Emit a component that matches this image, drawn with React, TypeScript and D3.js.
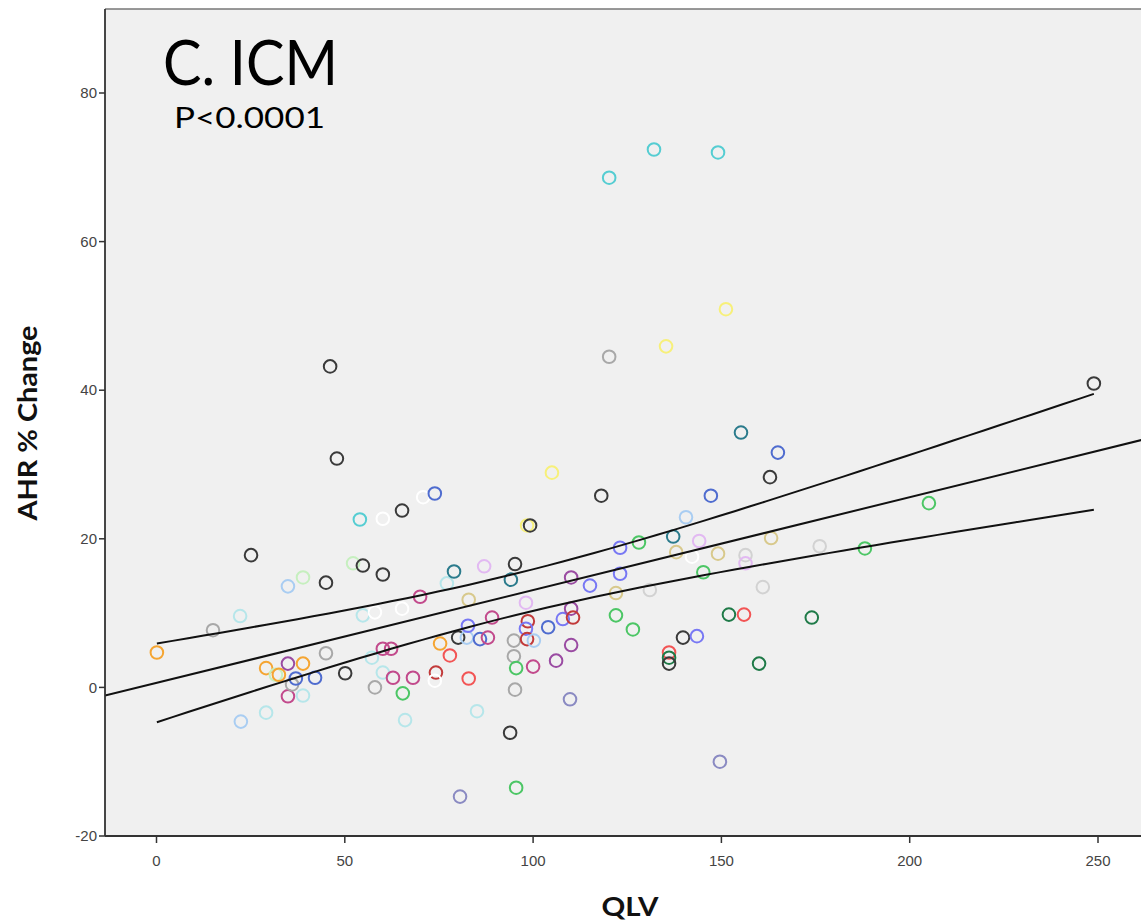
import React from "react";
import * as d3 from "d3";

// QLV (x) and AHR % change (y) per subject, with each subject's marker colour key
const qlv = [
  0.1, 15.0, 22.2, 22.4, 25.1, 29.1, 29.1, 31.7, 32.5, 34.9,
  34.9, 34.9, 36.0, 37.0, 38.9, 38.9, 38.9, 42.1, 45.0, 45.0,
  46.1, 47.9, 50.1, 52.2, 54.0, 54.8, 54.8, 57.2, 58.0, 58.0,
  60.1, 60.1, 60.1, 60.1, 62.3, 62.8, 65.2, 65.2, 65.4, 66.0,
  68.1, 70.0, 70.8, 73.9, 74.2, 73.9, 75.3, 77.1, 77.9, 79.0,
  80.1, 80.6, 82.4, 82.7, 82.9, 82.9, 85.1, 85.9, 87.0, 88.0,
  89.1, 94.1, 93.9, 95.2, 94.9, 94.9, 95.2, 95.5, 95.5, 98.1,
  98.6, 98.1, 98.4, 100.2, 100.0, 98.4, 99.2, 104.0, 105.0, 106.1,
  107.9, 110.1, 110.6, 110.1, 110.1, 109.8, 115.1, 118.1, 120.2, 120.2,
  122.0, 122.0, 123.1, 123.1, 126.5, 128.1, 131.0, 132.1, 135.3, 136.1,
  136.1, 136.1, 137.2, 138.0, 139.8, 140.6, 142.2, 144.1, 143.5, 145.2,
  147.2, 149.1, 149.1, 149.6, 151.2, 152.0, 156.0, 156.4, 156.4, 155.2,
  160.0, 161.0, 162.9, 165.0, 163.2, 174.0, 176.1, 188.1, 205.1, 248.9,
];

const ahrChange = [
  4.7, 7.7, 9.6, -4.6, 17.8, 2.6, -3.4, 1.7, 1.7, 13.6,
  3.2, -1.2, 0.4, 1.2, 3.2, 14.8, -1.1, 1.3, 4.6, 14.1,
  43.2, 30.8, 1.9, 16.7, 22.6, 16.4, 9.7, 4.0, 10.1, 0.0,
  15.2, 22.7, 2.0, 5.2, 5.2, 1.3, 23.8, 10.6, -0.8, -4.4,
  1.3, 12.2, 25.6, 26.1, 2.0, 0.9, 5.9, 14.0, 4.3, 15.6,
  6.7, -14.7, 6.7, 8.3, 11.8, 1.2, -3.2, 6.5, 16.3, 6.7,
  9.4, 14.5, -6.1, 16.6, 6.3, 4.2, -0.3, 2.6, -13.5, 11.4,
  8.9, 7.9, 6.5, 6.3, 2.8, 21.8, 21.8, 8.1, 28.9, 3.6,
  9.2, 10.6, 9.4, 14.8, 5.7, -1.6, 13.7, 25.8, 68.6, 44.5,
  12.7, 9.7, 18.8, 15.3, 7.8, 19.5, 13.1, 72.4, 45.9, 4.7,
  4.0, 3.2, 20.3, 18.2, 6.7, 22.9, 17.6, 19.7, 6.9, 15.5,
  25.8, 72.0, 18.0, -10.0, 50.9, 9.8, 9.8, 17.8, 16.7, 34.3,
  3.2, 13.5, 28.3, 31.6, 20.1, 9.4, 19.0, 18.7, 24.8, 40.9,
];

const subject = [
  "orange", "gray", "lightcyan", "lightblue", "black", "orange", "lightcyan", "lightgreen", "orange", "lightblue",
  "purple", "magenta", "gray", "blue", "orange", "lightgreen", "lightcyan", "blue", "gray", "black",
  "black", "black", "black", "lightgreen", "cyan", "black", "lightcyan", "lightcyan", "white", "gray",
  "black", "white", "lightcyan", "magenta", "magenta", "magenta", "black", "white", "green", "lightcyan",
  "magenta", "magenta", "white", "blue", "darkred", "white", "orange", "lightcyan", "red", "teal",
  "black", "slate", "lightblue", "violet", "tan", "red", "lightcyan", "blue", "lilac", "magenta",
  "magenta", "teal", "black", "black", "gray", "gray", "gray", "green", "green", "lilac",
  "darkred", "violet", "darkred", "lightblue", "magenta", "yellow", "black", "blue", "yellow", "purple",
  "violet", "purple", "darkred", "purple", "purple", "slate", "violet", "black", "cyan", "gray",
  "tan", "green", "violet", "violet", "green", "green", "lightgray", "cyan", "yellow", "red",
  "darkgreen", "black", "teal", "tan", "black", "lightblue", "white", "lilac", "violet", "green",
  "blue", "cyan", "tan", "slate", "yellow", "darkgreen", "red", "lightgray", "lilac", "teal",
  "darkgreen", "lightgray", "black", "blue", "tan", "darkgreen", "lightgray", "green", "green", "black",
];

const palette: Record<string, string> = {
  black: "#3a3a3a",
  gray: "#a8a8a8",
  lightgray: "#d2d2d2",
  white: "#ffffff",
  orange: "#f5a532",
  lightcyan: "#b6e6ea",
  cyan: "#55cdd2",
  lightblue: "#a9cdf2",
  blue: "#4f6ccf",
  violet: "#7878f4",
  lightgreen: "#c6efbf",
  green: "#4cc665",
  darkgreen: "#1f7a48",
  magenta: "#c24a8c",
  purple: "#9a4ba2",
  lilac: "#e2b9f2",
  tan: "#d8c98c",
  red: "#f25454",
  darkred: "#c23a3a",
  teal: "#2b7b8c",
  yellow: "#f7f07a",
  slate: "#8a8ac2",
};

// Axis ticks
const xTicks = [0, 50, 100, 150, 200, 250];
const yTicks = [-20, 0, 20, 40, 60, 80];

// Linear fit and 95% confidence band of the mean
const fitIntercept = 0.6;
const fitSlope = 0.125;
const bandBase = 7.79;
const bandSpread = 0.002241;
const bandCentre = 95.2;

export default function App() {
  const W = 1141;
  const H = 921;
  const left = 105;
  const right = 1141;
  const top = 9;
  const bottom = 836;

  const x = d3.scaleLinear().domain([0, 250]).range([156.5, 1098]);
  const y = d3.scaleLinear().domain([-20, 80]).range([836, 93]);

  const xMinData = d3.min(qlv) as number;
  const xMaxData = d3.max(qlv) as number;

  const fit = (v: number) => fitIntercept + fitSlope * v;
  const half = (v: number) => Math.sqrt(bandBase + bandSpread * (v - bandCentre) ** 2);

  const line = d3
    .line<number>()
    .x((v) => x(v))
    .y((v) => y(fit(v)));
  const upper = d3
    .line<number>()
    .x((v) => x(v))
    .y((v) => y(fit(v) + half(v)));
  const lower = d3
    .line<number>()
    .x((v) => x(v))
    .y((v) => y(fit(v) - half(v)));

  const fullRange = [x.invert(left), x.invert(right + 2)];
  const bandXs = d3.range(0, 61).map((i) => xMinData + ((xMaxData - xMinData) * i) / 60);

  const tickFont = "'Liberation Sans', Arial, sans-serif";
  const labelFont = "Lato, 'Open Sans', sans-serif";

  return (
    <svg
      width={W}
      height={H}
      style={{ position: "absolute", left: 0, top: 0, background: "#ffffff" }}
    >
      <defs>
        <clipPath id="plotClip">
          <rect x={left} y={top} width={right - left} height={bottom - top} />
        </clipPath>
      </defs>

      <rect x={left} y={top} width={right - left + 2} height={bottom - top} fill="#f0f0f0" />

      <g clipPath="url(#plotClip)">
        {qlv.map((v, i) => (
          <circle
            key={i}
            cx={x(v)}
            cy={y(ahrChange[i])}
            r={6.3}
            fill="none"
            stroke={palette[subject[i]]}
            strokeWidth={2}
          />
        ))}
        <path d={line(fullRange) || ""} fill="none" stroke="#111" strokeWidth={2} />
        <path d={upper(bandXs) || ""} fill="none" stroke="#111" strokeWidth={2} />
        <path d={lower(bandXs) || ""} fill="none" stroke="#111" strokeWidth={2} />
      </g>

      {/* frame */}
      <line x1={left} x2={right + 2} y1={top} y2={top} stroke="#777" strokeWidth={1.5} />
      <line x1={left} x2={left} y1={top} y2={bottom} stroke="#333" strokeWidth={1.8} />
      <line x1={left} x2={right + 2} y1={bottom} y2={bottom} stroke="#333" strokeWidth={1.8} />

      {/* y axis */}
      {yTicks.map((t) => (
        <g key={t}>
          <line x1={left - 6} x2={left} y1={y(t)} y2={y(t)} stroke="#333" strokeWidth={1.5} />
          <text
            x={left - 8}
            y={y(t)}
            dy="0.35em"
            textAnchor="end"
            fontFamily={tickFont}
            fontSize={15}
            fill="#444"
          >
            {t}
          </text>
        </g>
      ))}

      {/* x axis */}
      {xTicks.map((t) => (
        <g key={t}>
          <line x1={x(t)} x2={x(t)} y1={bottom} y2={bottom + 7} stroke="#333" strokeWidth={1.5} />
          <text
            x={x(t)}
            y={bottom + 30}
            textAnchor="middle"
            fontFamily={tickFont}
            fontSize={15}
            fill="#444"
          >
            {t}
          </text>
        </g>
      ))}

      <text
        x={630}
        y={916}
        textAnchor="middle"
        fontFamily={labelFont}
        fontWeight="bold"
        fontSize={27}
        textLength={57}
        lengthAdjust="spacingAndGlyphs"
        fill="#111"
      >
        QLV
      </text>

      <text
        transform={`translate(37, 423) rotate(-90)`}
        textAnchor="middle"
        fontFamily={labelFont}
        fontWeight="bold"
        fontSize={27}
        textLength={195}
        lengthAdjust="spacingAndGlyphs"
        fill="#111"
      >
        AHR % Change
      </text>

      <text
        x={250.5}
        y={85}
        textAnchor="middle"
        fontFamily="Lato, sans-serif"
        fontSize={62}
        textLength={175}
        lengthAdjust="spacingAndGlyphs"
        fill="#000"
      >
        C. ICM
      </text>
      <text
        x={249.5}
        y={128}
        textAnchor="middle"
        fontFamily="Lato, sans-serif"
        fontSize={29}
        textLength={151}
        lengthAdjust="spacingAndGlyphs"
        fill="#000"
      >
        P&lt;0.0001
      </text>
    </svg>
  );
}
